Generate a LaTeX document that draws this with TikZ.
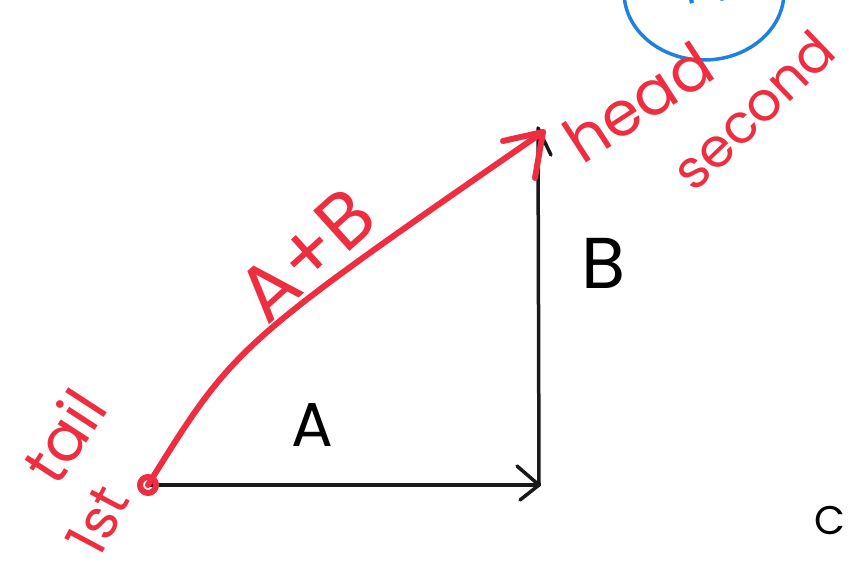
\documentclass[tikz,border=0pt]{standalone}
\usepackage{fontspec}
\setmainfont{Poppins}
\definecolor{pen}{HTML}{EE2E40}
\definecolor{bluepen}{HTML}{1E80E2}
\tikzset{
  blackline/.style={line width=3.5pt, line cap=round, line join=round, black!90},
  redline/.style={line width=6pt, line cap=round, line join=round, pen},
  redtext/.style={text=pen, inner sep=0pt},
  blacktext/.style={text=black, inner sep=0pt},
}
\begin{document}
\begin{tikzpicture}[x=1pt,y=-1pt]
\useasboundingbox (0,0) rectangle (849,583);
\clip (0,0) rectangle (849,583);
% key points
\coordinate (O) at (148,485);
\coordinate (P) at (539,485);
\coordinate (Q) at (538,128);
\coordinate (Pu) at (517,466);
\coordinate (Pd) at (520,500);
\coordinate (Qr) at (551,155);
\coordinate (Rl) at (503,141);
\coordinate (Rd) at (535,178);
\coordinate (R) at (543,132);
% black vectors
\draw[blackline] (O) -- (P);
\draw[blackline] (Pu) -- (P) -- (Pd);
\draw[blackline] (P) -- (Q) -- (Qr);
% red resultant
\draw[redline] (O) circle (8);
\draw[redline] (O) .. controls (235,345) .. (R);
\draw[redline] (Rl) -- (R) -- (Rd);
% blue circle
\draw[bluepen, line width=3.5pt] (704,-8) ellipse (80 and 68);
\node[text=bluepen, font=\fontsize{50}{50}\selectfont, rotate=15] (plus) at (704,-10) {+v};
% labels
\node[blacktext, font=\fontsize{62}{62}\selectfont] (lA) at (312,425) {A};
\node[blacktext, font=\fontsize{72}{72}\selectfont] (lB) at (604,263) {B};
\node[blacktext, font=\fontsize{40}{40}\selectfont] (lC) at (830,520) {C};
\node[redtext, font=\fontsize{78}{78}\selectfont, rotate=42] (lAB) at (306,255) {A+B};
\node[redtext, font=\fontsize{62}{62}\selectfont, rotate=57] (tail) at (64,436) {tail};
\node[redtext, font=\fontsize{56}{56}\selectfont, rotate=62] (first) at (98,520) {1st};
\node[redtext, font=\fontsize{62}{62}\selectfont, rotate=33] (head) at (638,102) {head};
\node[redtext, font=\fontsize{54}{54}\selectfont, rotate=44] (second) at (753,110) {second};
\end{tikzpicture}
\end{document}
